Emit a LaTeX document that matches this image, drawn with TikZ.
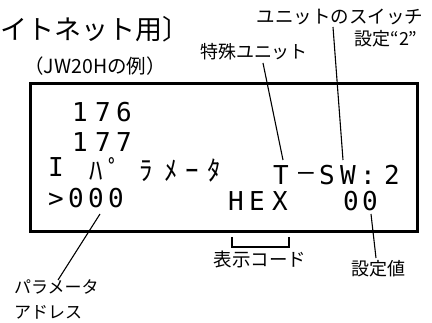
\documentclass[tikz,border=0pt]{standalone}
\usepackage{fontspec}
\newfontfamily\cjk{Noto Sans CJK JP}
\newfontfamily\lcd{DejaVu Sans Mono}
\begin{document}
\begin{tikzpicture}[x=1pt,y=-1pt,
  jp/.style={inner sep=0pt, anchor=base},
  lcdch/.style={inner sep=0pt, anchor=base, font={\lcd\fontsize{26}{26}\selectfont}},
  kana/.style={inner sep=0pt, anchor=base, font={\cjk\fontsize{27}{27}\selectfont}},
  leader/.style={line width=1.1pt},
]
\useasboundingbox (0,0) rectangle (432,323);
% titles and labels
\node[jp, anchor=base west, font={\cjk\fontsize{27}{27}\selectfont}] (title) at (0,40) {イトネット用〕};
\node[jp, font={\cjk\fontsize{19.5}{19.5}\selectfont}] (example) at (95,74) {（JW20Hの例）};
\node[jp, font={\cjk\fontsize{18}{18}\selectfont}] (tokushu) at (254,58.5) {特殊ユニット};
\node[jp, font={\cjk\fontsize{18.5}{18.5}\selectfont}] (switch) at (340,23.5) {ユニットのスイッチ};
\node[jp, font={\cjk\fontsize{18}{18}\selectfont}] (setting2) at (386,46) {設定“2”};
\node[jp, font={\cjk\fontsize{18.5}{18.5}\selectfont}] (code) at (260,266.5) {表示コード};
\node[jp, font={\cjk\fontsize{18}{18}\selectfont}] (value) at (378,275.5) {設定値};
\node[jp, anchor=base west, font={\cjk\fontsize{17}{17}\selectfont}] (param) at (14,293.5) {パラメータ};
\node[jp, anchor=base west, font={\cjk\fontsize{17}{17}\selectfont}] (addr) at (14,318.5) {アドレス};
% display box
\draw[line width=3pt] (30,84) rectangle (417,232);
% display characters
\foreach \c/\x [count=\i] in {1/80,7/103,6/124}
  \node[lcdch] (la\i) at (\x,122) {\c};
\foreach \c/\x [count=\i] in {1/80,7/103,7/124}
  \node[lcdch] (lb\i) at (\x,152) {\c};
\node[lcdch] (lc0) at (56,177) {I};
\foreach \c/\x [count=\i] in {ﾊ/96,ﾟ/115,ﾗ/146,ﾒ/171,ｰ/192,ﾀ/214}
  \node[kana] (lk\i) at (\x,181) {\c};
\foreach \c/\x [count=\i] in {T/281,S/327,W/348,:/368,2/392}
  \node[lcdch] (ls\i) at (\x,185) {\c};
\node[lcdch] (lsdash) at (306,181) {–};
\foreach \c/\x [count=\i] in {>/56,0/76,0/96,0/116}
  \node[lcdch] (ld\i) at (\x,208) {\c};
\foreach \c/\x [count=\i] in {H/236,E/257,X/280,0/351,0/370}
  \node[lcdch] (le\i) at (\x,211) {\c};
% leader lines
\coordinate (tokA) at (263,63);
\coordinate (tokB) at (283,160);
\coordinate (swA) at (333,27);
\coordinate (swB) at (343,160);
\coordinate (parA) at (100,214);
\coordinate (parB) at (58,280);
\coordinate (valA) at (371,214);
\coordinate (valB) at (376,258);
\draw[leader] (tokA) -- (tokB);
\draw[leader] (swA) -- (swB);
\draw[leader] (parA) -- (parB);
\draw[leader] (valA) -- (valB);
% bracket under HEX
\coordinate (brA) at (232,237);
\coordinate (brB) at (289,237);
\draw[line width=1.6pt] (brA) -- (232,247) -- (289,247) -- (brB);
\end{tikzpicture}
\end{document}
